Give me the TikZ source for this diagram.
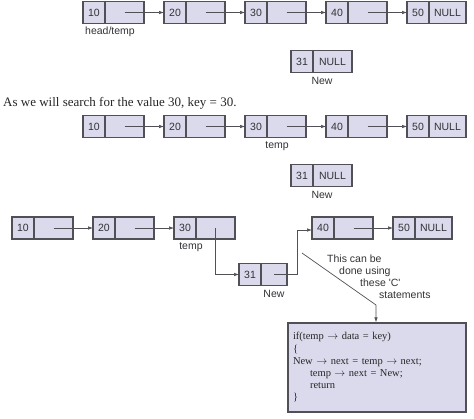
\documentclass[tikz,border=0pt]{standalone}
\usepackage{fontspec}
\setmainfont{Liberation Serif}
\setsansfont{Liberation Sans}
\newfontfamily\codefont[WordSpace=1.6]{Liberation Serif}
\usetikzlibrary{arrows.meta}
\usetikzlibrary{positioning}
\definecolor{cellfill}{RGB}{218,218,236}
\definecolor{edgegray}{RGB}{80,80,86}
\definecolor{inkgray}{RGB}{50,50,55}
\tikzset{
    cell/.style={
           rectangle,
           draw=edgegray, line width=1.1pt,
           fill=cellfill,
           minimum height=22pt,
           inner sep=0pt, outer sep=0pt,
           text=inkgray,
           font=\sffamily\fontsize{10.5}{12}\selectfont,
           },
    datacell/.style={cell, minimum width=22pt},
    linkcell/.style={cell, minimum width=39pt},
    nullcell/.style={cell, minimum width=37pt},
    shortcell/.style={cell, minimum width=26pt},
    lbl/.style={inner sep=0pt, text=inkgray,
           font=\sffamily\fontsize{10.5}{12}\selectfont},
    link/.style={draw=edgegray, line width=0.7pt,
           -{Latex[length=5pt,width=3.6pt]}},
    codebox/.style={
           rectangle,
           draw=edgegray, line width=1.3pt,
           fill=cellfill,
           inner xsep=5pt, inner ysep=0pt,
           text=black!85,
           font=\codefont\fontsize{10.5}{12.2}\selectfont,
           },
}

\begin{document}
\begin{tikzpicture}[x=1pt,y=-1pt]
 \useasboundingbox (0,0) rectangle (474,418);

 % first list, head/temp on the first node
 \node[datacell] (r1d10) at (94,12.5) {10};
 \node[linkcell, right=0pt of r1d10] (r1p10) {};
 \node[datacell, right=20pt of r1p10] (r1d20) {20};
 \node[linkcell, right=0pt of r1d20] (r1p20) {};
 \node[datacell, right=20pt of r1p20] (r1d30) {30};
 \node[linkcell, right=0pt of r1d30] (r1p30) {};
 \node[datacell, right=20pt of r1p30] (r1d40) {40};
 \node[linkcell, right=0pt of r1d40] (r1p40) {};
 \node[datacell, right=20pt of r1p40] (r1d50) {50};
 \node[nullcell, right=0pt of r1d50] (r1p50) {NULL};
 \node[lbl, anchor=north west] (r1head)
   at ([xshift=2pt,yshift=-3pt]r1d10.south west) {head/temp};
 \draw[link] (r1p10.center) -- (r1d20.west);
 \draw[link] (r1p20.center) -- (r1d30.west);
 \draw[link] (r1p30.center) -- (r1d40.west);
 \draw[link] (r1p40.center) -- (r1d50.west);

 \node[datacell] (r1dnew) at (302,61.5) {31};
 \node[linkcell, right=0pt of r1dnew] (r1pnew) {NULL};
 \node[lbl, anchor=north] (r1new)
   at ([xshift=9pt,yshift=-5pt]r1pnew.south west) {New};

 \node[anchor=west, inner sep=0pt, text=black!85,
   font=\fontsize{13}{15}\selectfont] (caption)
   at (3,103) {As we will search for the value 30, key = 30.};

 % second list, temp on 30
 \node[datacell] (r2d10) at (94,126.5) {10};
 \node[linkcell, right=0pt of r2d10] (r2p10) {};
 \node[datacell, right=20pt of r2p10] (r2d20) {20};
 \node[linkcell, right=0pt of r2d20] (r2p20) {};
 \node[datacell, right=20pt of r2p20] (r2d30) {30};
 \node[linkcell, right=0pt of r2d30] (r2p30) {};
 \node[datacell, right=20pt of r2p30] (r2d40) {40};
 \node[linkcell, right=0pt of r2d40] (r2p40) {};
 \node[datacell, right=20pt of r2p40] (r2d50) {50};
 \node[nullcell, right=0pt of r2d50] (r2p50) {NULL};
 \node[lbl, anchor=north] (r2temp)
   at ([xshift=10pt,yshift=-4pt]r2p30.south west) {temp};
 \draw[link] (r2p10.center) -- (r2d20.west);
 \draw[link] (r2p20.center) -- (r2d30.west);
 \draw[link] (r2p30.center) -- (r2d40.west);
 \draw[link] (r2p40.center) -- (r2d50.west);

 \node[datacell] (r2dnew) at (302,175.5) {31};
 \node[linkcell, right=0pt of r2dnew] (r2pnew) {NULL};
 \node[lbl, anchor=north] (r2new)
   at ([xshift=9pt,yshift=-5pt]r2pnew.south west) {New};

 % third list, 31 put in after 30
 \node[datacell] (r3d10) at (23,228) {10};
 \node[linkcell, right=0pt of r3d10] (r3p10) {};
 \node[datacell, right=20pt of r3p10] (r3d20) {20};
 \node[linkcell, right=0pt of r3d20] (r3p20) {};
 \node[datacell, right=20pt of r3p20] (r3d30) {30};
 \node[linkcell, right=0pt of r3d30] (r3p30) {};
 \node[datacell] (r3d31) at (250,274.5) {31};
 \node[shortcell, right=0pt of r3d31] (r3p31) {};
 \node[datacell] (r3d40) at (323,228) {40};
 \node[linkcell, right=0pt of r3d40] (r3p40) {};
 \node[datacell, right=20pt of r3p40] (r3d50) {50};
 \node[nullcell, right=0pt of r3d50] (r3p50) {NULL};
 \node[lbl, anchor=north] (r3temp)
   at ([xshift=-5pt,yshift=-4pt]r3d30.south east) {temp};
 \node[lbl, anchor=north] (r3new)
   at ([yshift=-5pt]r3p31.south) {New};
 \draw[link] (r3p10.center) -- (r3d20.west);
 \draw[link] (r3p20.center) -- (r3d30.west);
 \draw[link] (r3p30.center) |- (r3d31.west);
 \draw[link] (r3p31.center) -- ([xshift=10pt]r3p31.east)
   |- ([yshift=-2pt]r3d40.west);
 \draw[link] (r3p40.center) -- (r3d50.west);

 % note and the C code
 \node[lbl, anchor=north west, align=left,
   font=\sffamily\fontsize{10.5}{12}\selectfont] (note) at (327,255)
   {This can be\\
    \hspace*{12pt}done using\\
    \hspace*{33pt}these \textquotesingle C\textquotesingle\\
    \hspace*{52pt}statements};
 \node[codebox, minimum width=178pt, minimum height=89pt,
   text width=168pt, align=left] (code) at (377,367.5)
   {if(temp $\rightarrow$ data = key)\\
    \{\\
    New $\rightarrow$ next = temp $\rightarrow$ next;\\
    \hspace*{17pt}temp $\rightarrow$ next = New;\\
    \hspace*{17pt}return\\
    \}};
 \coordinate (noteFrom) at (302,253);
 \coordinate (noteBend) at (376,305);
 \draw[link] (noteFrom) -- (noteBend) -- (noteBend |- code.north);
\end{tikzpicture}
\end{document}
